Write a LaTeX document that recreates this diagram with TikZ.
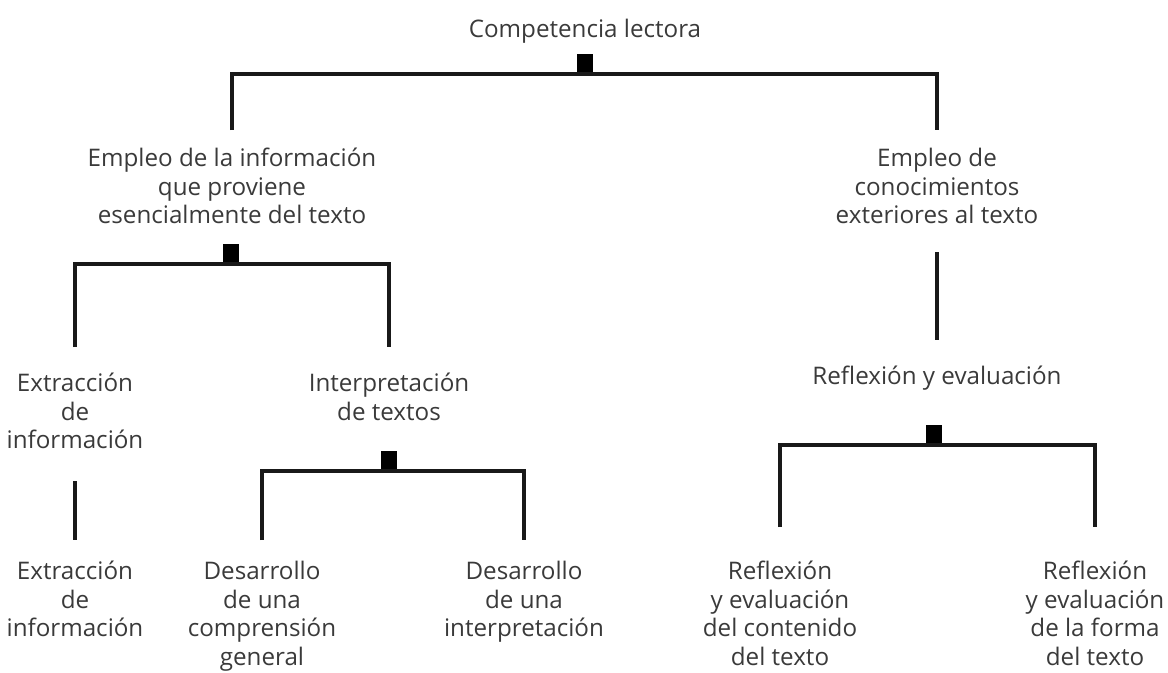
\documentclass[tikz,border=0pt]{standalone}
\usepackage{fontspec}
\setmainfont{Open Sans}
\usepackage{xcolor}
\usetikzlibrary{positioning,calc}
\definecolor{inkgray}{HTML}{3A3A3A}

\begin{document}
\begin{tikzpicture}[
    x=0.025cm, y=-0.025cm,
    every node/.style={font=\fontsize{17.2}{20.3}\selectfont, text=inkgray},
    lbl/.style={align=center, anchor=north, inner sep=0pt},
    knot/.style={fill=black, minimum width=0.38cm, minimum height=0.5cm,
                 inner sep=0pt, anchor=south},
    bar/.style={draw=black!90, line width=2.2pt},
]
\useasboundingbox (0,0) rectangle (1168,672);

% =====================================================================
% Top level
% =====================================================================
\node[lbl] (comp) at (585,19) {Competencia lectora};
\node[knot] (k0) at (585,74) {};

\node[lbl] (emp) at (232,148) {Empleo de la información\\que proviene\\esencialmente del texto};
\node[lbl] (con) at (937,148) {Empleo de\\conocimientos\\exteriores al texto};

\draw[bar] ([yshift=0.45cm]emp.north) |- (k0.south) -| ([yshift=0.45cm]con.north);

% =====================================================================
% Left branch: information from the text
% =====================================================================
\node[knot] (k1) at (231,264) {};
\node[lbl] (ext) at (75,373) {Extracción\\de\\información};
\node[lbl] (int) at (389,373) {Interpretación\\de textos};

\draw[bar] ([yshift=0.65cm]ext.north) |- (k1.south) -| ([yshift=0.65cm]int.north);

% single line down to the second level
\node[lbl] (ext2) at (75,561) {Extracción\\de\\información};
\draw[bar] ([yshift=-0.8cm]ext.south) -- ([yshift=0.525cm]ext2.north);

% interpretation split
\node[knot] (k2) at (389,471) {};
\node[lbl] (desa) at (262,561) {Desarrollo\\de una\\comprensión\\general};
\node[lbl] (desb) at (524,561) {Desarrollo\\de una\\interpretación};

\draw[bar] ([yshift=0.525cm]desa.north) |- (k2.south) -| ([yshift=0.525cm]desb.north);

% =====================================================================
% Right branch: outside knowledge
% =====================================================================
\node[lbl] (refl) at (937,366) {Reflexión y evaluación};
\draw[bar] ([yshift=-0.7cm]con.south) -- ([yshift=0.65cm]refl.north);

\node[knot] (k3) at (934,445) {};
\node[lbl] (rcon) at (780,561) {Reflexión\\y evaluación\\del contenido\\del texto};
\node[lbl] (rfor) at (1095,561) {Reflexión\\y evaluación\\de la forma\\del texto};

\draw[bar] ([yshift=0.85cm]rcon.north) |- (k3.south) -| ([yshift=0.85cm]rfor.north);

\end{tikzpicture}
\end{document}
